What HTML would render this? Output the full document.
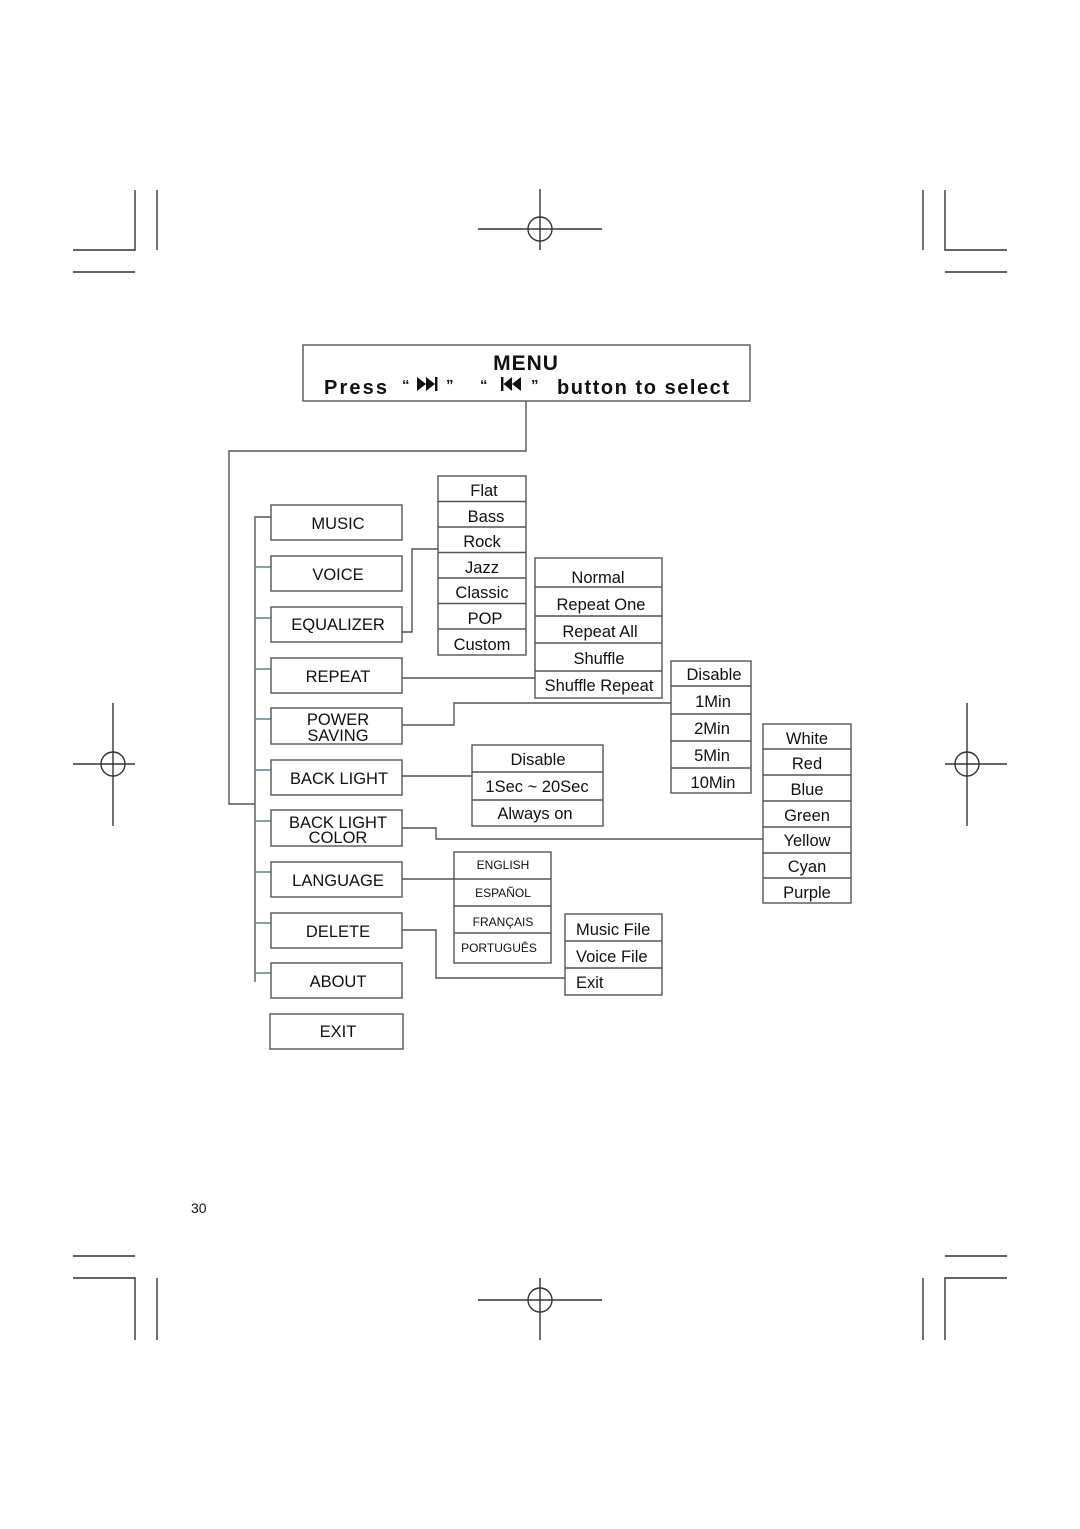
<!DOCTYPE html>
<html><head><meta charset="utf-8"><style>
html,body{margin:0;padding:0;background:#fff;}
svg{display:block;}
text{font-family:"Liberation Sans",Arial,sans-serif;fill:#111;}
</style></head><body>
<svg width="1080" height="1529" viewBox="0 0 1080 1529" xmlns="http://www.w3.org/2000/svg">
<g stroke="#333" stroke-width="1.4" fill="none">
<path d="M73 250H135V190M157 190V250M73 272H135"/>
<path d="M1007 250H945V190M923 190V250M945 272H1007"/>
<path d="M478 229H602M540 189V250"/><circle cx="540" cy="229" r="12"/>
<path d="M73 764H135M113 703V826"/><circle cx="113" cy="764" r="12"/>
<path d="M945 764H1007M967 703V826"/><circle cx="967" cy="764" r="12"/>
<path d="M73 1256H135M73 1278H135V1340M157 1278V1340"/>
<path d="M945 1256H1007M1007 1278H945V1340M923 1278V1340"/>
<path d="M478 1300H602M540 1278V1340"/><circle cx="540" cy="1300" r="12"/>
</g>
<g stroke="#555" stroke-width="1.4" fill="none">
<rect x="303" y="345" width="447" height="56"/>
<path d="M526 401V451H229V804H255"/>
<path d="M255 982V517H271"/>
<path d="M255 567H271M255 618H271M255 669H271M255 719H271M255 770H271M255 821H271M255 872H271M255 923H271M255 973H271" stroke="#5c8888"/>
<path d="M402 632H412V549H438"/>
<path d="M402 678H535"/>
<path d="M402 725H454V703H671"/>
<path d="M402 776H472"/>
<path d="M402 828H436V839H763"/>
<path d="M402 879H454"/>
<path d="M402 930H436V978H565"/>
<rect x="271" y="505" width="131" height="35"/>
<rect x="271" y="556" width="131" height="35"/>
<rect x="271" y="607" width="131" height="35"/>
<rect x="271" y="658" width="131" height="35"/>
<rect x="271" y="708" width="131" height="36"/>
<rect x="271" y="760" width="131" height="35"/>
<rect x="271" y="810" width="131" height="36"/>
<rect x="271" y="862" width="131" height="35"/>
<rect x="271" y="913" width="131" height="35"/>
<rect x="271" y="963" width="131" height="35"/>
<rect x="270" y="1014" width="133" height="35"/>
<rect x="438" y="476" width="88" height="179"/>
<path d="M438 501.5H526M438 527H526M438 552.5H526M438 578H526M438 603.5H526M438 629H526"/>
<rect x="535" y="558" width="127" height="140"/>
<path d="M535 587H662M535 616H662M535 643H662M535 671H662"/>
<rect x="671" y="661" width="80" height="132"/>
<path d="M671 686H751M671 714H751M671 741H751M671 768H751"/>
<rect x="472" y="745" width="131" height="81"/>
<path d="M472 772H603M472 800H603"/>
<rect x="763" y="724" width="88" height="179"/>
<path d="M763 749H851M763 775H851M763 801H851M763 827H851M763 853H851M763 878H851"/>
<rect x="454" y="852" width="97" height="111"/>
<path d="M454 879H551M454 906H551M454 933H551"/>
<rect x="565" y="914" width="97" height="81"/>
<path d="M565 941H662M565 968H662"/>
</g>
<text x="526" y="370" font-size="21" font-weight="bold" text-anchor="middle" letter-spacing="1">MENU</text>
<text x="324" y="394" font-size="20" font-weight="bold" textLength="63">Press</text>
<text x="402" y="390" font-size="15" font-weight="bold">“</text>
<polygon points="417,377 426,384 417,391" fill="#111"/><polygon points="426,377 435,384 426,391" fill="#111"/><rect x="435" y="377" width="2.4" height="14" fill="#111"/>
<text x="446" y="390" font-size="15" font-weight="bold">”</text>
<text x="480" y="390" font-size="15" font-weight="bold">“</text>
<rect x="501" y="377" width="2.4" height="14" fill="#111"/><polygon points="512,377 503.5,384 512,391" fill="#111"/><polygon points="521,377 512,384 521,391" fill="#111"/>
<text x="531" y="390" font-size="15" font-weight="bold">”</text>
<text x="557" y="394" font-size="20" font-weight="bold" textLength="172">button to select</text>
<g font-size="16.5" text-anchor="middle">
<text x="338" y="529">MUSIC</text>
<text x="338" y="580">VOICE</text>
<text x="338" y="630">EQUALIZER</text>
<text x="338" y="682">REPEAT</text>
<text x="338" y="725">POWER</text>
<text x="338" y="741">SAVING</text>
<text x="339" y="784">BACK LIGHT</text>
<text x="338" y="828">BACK LIGHT</text>
<text x="338" y="843">COLOR</text>
<text x="338" y="886">LANGUAGE</text>
<text x="338" y="937">DELETE</text>
<text x="338" y="987">ABOUT</text>
<text x="338" y="1037">EXIT</text>
<text x="484" y="496">Flat</text>
<text x="486" y="522">Bass</text>
<text x="482" y="547">Rock</text>
<text x="482" y="573">Jazz</text>
<text x="482" y="598">Classic</text>
<text x="485" y="624">POP</text>
<text x="482" y="650">Custom</text>
<text x="598" y="583">Normal</text>
<text x="601" y="610">Repeat One</text>
<text x="600" y="637">Repeat All</text>
<text x="599" y="664">Shuffle</text>
<text x="599" y="691">Shuffle Repeat</text>
<text x="714" y="680">Disable</text>
<text x="713" y="707">1Min</text>
<text x="712" y="734">2Min</text>
<text x="712" y="761">5Min</text>
<text x="713" y="788">10Min</text>
<text x="538" y="765">Disable</text>
<text x="537" y="792">1Sec ~ 20Sec</text>
<text x="535" y="819">Always on</text>
<text x="807" y="744">White</text>
<text x="807" y="769">Red</text>
<text x="807" y="795">Blue</text>
<text x="807" y="821">Green</text>
<text x="807" y="846">Yellow</text>
<text x="807" y="872">Cyan</text>
<text x="807" y="898">Purple</text>
</g>
<g font-size="12" text-anchor="middle">
<text x="503" y="869">ENGLISH</text>
<text x="503" y="897">ESPAÑOL</text>
<text x="503" y="926">FRANÇAIS</text>
<text x="499" y="952">PORTUGUÊS</text>
</g>
<g font-size="16.5">
<text x="576" y="935">Music File</text>
<text x="576" y="962">Voice File</text>
<text x="576" y="988">Exit</text>
</g>
<text x="191" y="1213" font-size="14">30</text>
</svg>
</body></html>
